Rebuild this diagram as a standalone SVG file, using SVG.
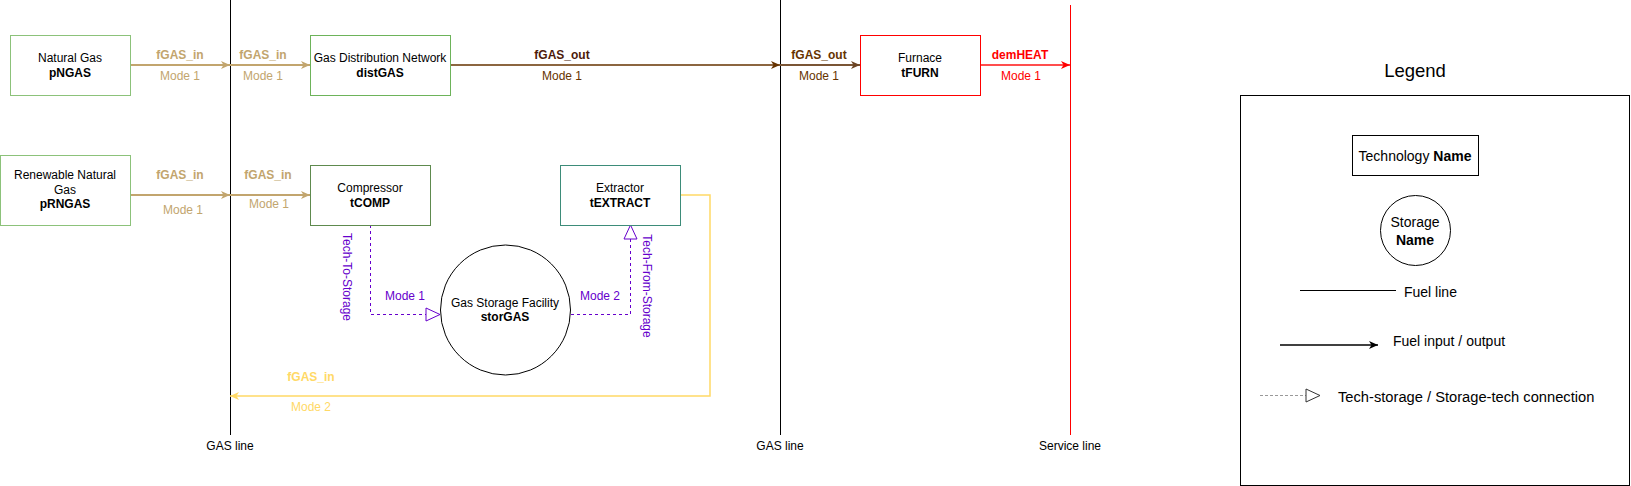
<svg xmlns="http://www.w3.org/2000/svg" width="1631" height="486" viewBox="0 0 1631 486">
<style>
text{font-family:"Liberation Sans",Arial,sans-serif;font-size:12px;fill:#000}
.c{text-anchor:middle}
.b{font-weight:bold}
.tan{fill:#C2A56E}
.brd{fill:#4D1A0A}
.br{fill:#663300}
.red{fill:#FF0000}
.yel{fill:#FFD966}
.pur{fill:#6600CC}
.lg{font-size:14px}
.node{fill:#fff;stroke-width:1}
</style>
<defs>
<marker id="aTan" markerUnits="userSpaceOnUse" markerWidth="12" markerHeight="12" refX="10" refY="6" orient="auto" overflow="visible"><path d="M1,2 L10,6 L1,10 L3.5,6 z" fill="#C2A56E"/></marker>
<marker id="aBr" markerUnits="userSpaceOnUse" markerWidth="12" markerHeight="12" refX="10" refY="6" orient="auto" overflow="visible"><path d="M1,2 L10,6 L1,10 L3.5,6 z" fill="#663300"/></marker>
<marker id="aBr2" markerUnits="userSpaceOnUse" markerWidth="12" markerHeight="12" refX="10" refY="6" orient="auto" overflow="visible"><path d="M1,2 L10,6 L1,10 L3.5,6 z" fill="#6B4423"/></marker>
<marker id="aRed" markerUnits="userSpaceOnUse" markerWidth="12" markerHeight="12" refX="10" refY="6" orient="auto" overflow="visible"><path d="M1,2 L10,6 L1,10 L3.5,6 z" fill="#FF0000"/></marker>
<marker id="aYel" markerUnits="userSpaceOnUse" markerWidth="12" markerHeight="12" refX="10" refY="6" orient="auto" overflow="visible"><path d="M1,2 L10,6 L1,10 L3.5,6 z" fill="#FFD966"/></marker>
<marker id="aBlk" markerUnits="userSpaceOnUse" markerWidth="12" markerHeight="12" refX="10" refY="6" orient="auto" overflow="visible"><path d="M1,2 L10,6 L1,10 L3.5,6 z" fill="#000"/></marker>
<marker id="tPur" markerUnits="userSpaceOnUse" markerWidth="16" markerHeight="16" refX="15" refY="8" orient="auto" overflow="visible"><path d="M1,1.5 L15,8 L1,14.5 z" fill="#fff" stroke="#6600CC" stroke-width="1"/></marker>
<marker id="tGry" markerUnits="userSpaceOnUse" markerWidth="16" markerHeight="16" refX="15" refY="8" orient="auto" overflow="visible"><path d="M1,1.5 L15,8 L1,14.5 z" fill="#fff" stroke="#333" stroke-width="1"/></marker>
</defs>
<rect width="1631" height="486" fill="#fff"/>

<g id="buses">
<line x1="230.5" y1="0" x2="230.5" y2="435" stroke="#000" stroke-width="1"/>
<line x1="780.5" y1="0" x2="780.5" y2="435" stroke="#000" stroke-width="1"/>
<line x1="1070.5" y1="5" x2="1070.5" y2="435" stroke="#FF0000" stroke-width="1"/>
<text class="c" x="230" y="450">GAS line</text>
<text class="c" x="780" y="450">GAS line</text>
<text class="c" x="1070" y="450">Service line</text>
</g>

<g id="connectors" fill="none">
<line x1="130" y1="65" x2="230" y2="65" stroke="#C2A56E" stroke-width="2" marker-end="url(#aTan)"/>
<line x1="230" y1="65" x2="310" y2="65" stroke="#C2A56E" stroke-width="2" marker-end="url(#aTan)"/>
<line x1="130" y1="195" x2="230" y2="195" stroke="#C2A56E" stroke-width="2" marker-end="url(#aTan)"/>
<line x1="230" y1="195" x2="310" y2="195" stroke="#C2A56E" stroke-width="2" marker-end="url(#aTan)"/>
<line x1="450" y1="65" x2="780" y2="65" stroke="#663300" stroke-width="1.5" marker-end="url(#aBr)"/>
<line x1="780" y1="65" x2="860" y2="65" stroke="#7A5535" stroke-width="2" marker-end="url(#aBr2)"/>
<line x1="980" y1="65" x2="1070" y2="65" stroke="#FF4D4D" stroke-width="2" marker-end="url(#aRed)"/>
<path d="M680,195 H710 V396 H230" stroke="#FFD966" stroke-width="1.5" marker-end="url(#aYel)"/>
<path d="M370.5,225 V314.5 H440" stroke="#6600CC" stroke-width="1" stroke-dasharray="3,3" marker-end="url(#tPur)"/>
<path d="M571,314.5 H630.5 V225" stroke="#6600CC" stroke-width="1" stroke-dasharray="3,3" marker-end="url(#tPur)"/>
<text class="c b tan" x="180" y="59">fGAS_in</text>
<text class="c tan" x="180" y="80">Mode 1</text>
<text class="c b tan" x="263" y="59">fGAS_in</text>
<text class="c tan" x="263" y="80">Mode 1</text>
<text class="c b tan" x="180" y="179">fGAS_in</text>
<text class="c tan" x="183" y="214">Mode 1</text>
<text class="c b tan" x="268" y="179">fGAS_in</text>
<text class="c tan" x="269" y="208">Mode 1</text>
<text class="c b brd" x="562" y="59">fGAS_out</text>
<text class="c br" x="562" y="80">Mode 1</text>
<text class="c b br" x="819" y="59">fGAS_out</text>
<text class="c br" x="819" y="80">Mode 1</text>
<text class="c b red" x="1020" y="59">demHEAT</text>
<text class="c red" x="1021" y="80">Mode 1</text>
<text class="c b yel" x="311" y="381">fGAS_in</text>
<text class="c yel" x="311" y="411">Mode 2</text>
<text class="c pur" x="405" y="300">Mode 1</text>
<text class="c pur" x="600" y="300">Mode 2</text>
<text class="c pur" transform="translate(347,277) rotate(90)" dy="4">Tech-To-Storage</text>
<text class="c pur" transform="translate(647,286) rotate(90)" dy="4">Tech-From-Storage</text>
</g>

<g id="pNGAS">
<rect class="node" x="10.5" y="35.5" width="120" height="60" stroke="#8CC27A"/>
<text class="c" x="70" y="61.5">Natural Gas</text>
<text class="c b" x="70" y="76.5">pNGAS</text>
</g>
<g id="pRNGAS">
<rect class="node" x="0.5" y="155.5" width="130" height="70" stroke="#8CC27A"/>
<text class="c" x="65" y="179">Renewable Natural</text>
<text class="c" x="65" y="194">Gas</text>
<text class="c b" x="65" y="208">pRNGAS</text>
</g>
<g id="distGAS">
<rect class="node" x="310.5" y="35.5" width="140" height="60" stroke="#6DB35A"/>
<text class="c" x="380" y="61.5">Gas Distribution Network</text>
<text class="c b" x="380" y="76.5">distGAS</text>
</g>
<g id="tCOMP">
<rect class="node" x="310.5" y="165.5" width="120" height="60" stroke="#5E8A4E"/>
<text class="c" x="370" y="192">Compressor</text>
<text class="c b" x="370" y="207">tCOMP</text>
</g>
<g id="tEXTRACT">
<rect class="node" x="560.5" y="165.5" width="120" height="60" stroke="#3D8C79"/>
<text class="c" x="620" y="192">Extractor</text>
<text class="c b" x="620" y="207">tEXTRACT</text>
</g>
<g id="storGAS">
<circle cx="505.5" cy="310" r="65" fill="#fff" stroke="#000" stroke-width="1"/>
<text class="c" x="505" y="306.5">Gas Storage Facility</text>
<text class="c b" x="505" y="321">storGAS</text>
</g>
<g id="tFURN">
<rect class="node" x="860.5" y="35.5" width="120" height="60" stroke="#FF0000"/>
<text class="c" x="920" y="61.5">Furnace</text>
<text class="c b" x="920" y="76.5">tFURN</text>
</g>

<g id="legend">
<text class="c" x="1415" y="76.5" style="font-size:18.5px">Legend</text>
<rect x="1240.5" y="95.5" width="389" height="390" fill="none" stroke="#000" stroke-width="1"/>
<rect x="1352.5" y="135.5" width="126" height="40" fill="#fff" stroke="#000" stroke-width="1"/>
<text class="c lg" x="1415" y="161"><tspan>Technology </tspan><tspan class="b">Name</tspan></text>
<circle cx="1415.5" cy="230.5" r="35" fill="#fff" stroke="#000" stroke-width="1"/>
<text class="c lg" x="1415" y="226.5">Storage</text>
<text class="c lg b" x="1415" y="244.5">Name</text>
<line x1="1300" y1="290.5" x2="1396" y2="290.5" stroke="#000" stroke-width="1"/>
<text class="lg" x="1404" y="296.5">Fuel line</text>
<line x1="1280" y1="345" x2="1378" y2="345" stroke="#000" stroke-width="1.5" marker-end="url(#aBlk)"/>
<text class="lg" x="1393" y="346">Fuel input / output</text>
<line x1="1260" y1="395.5" x2="1320" y2="395.5" stroke="#999" stroke-width="1" stroke-dasharray="3,2" marker-end="url(#tGry)"/>
<text class="lg" x="1338" y="402" style="font-size:14.7px">Tech-storage / Storage-tech connection</text>
</g>
</svg>
